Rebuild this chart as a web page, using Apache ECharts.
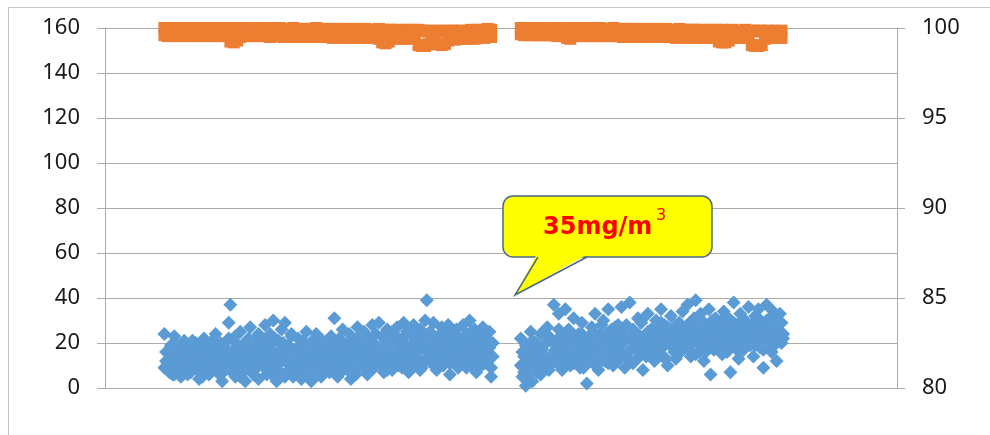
<!DOCTYPE html>
<html>
<head>
<meta charset="utf-8">
<script src="https://cdn.jsdelivr.net/npm/echarts@6/dist/echarts.min.js"></script>
<style>
html,body{margin:0;padding:0;background:#fff;}
#c{width:990px;height:435px;}
</style>
</head>
<body>
<div id="c"></div>
<script>
// sample index range of the x axis (hidden)
const xMin = 0, xMax = 480;
// left axis ticks (mg/m3) and right axis ticks (%)
const leftTicks = { min: 0, max: 160, interval: 20 };
const rightTicks = { min: 80, max: 100, interval: 5 };

// blue series (left axis) – first run, starting at sample 36 (two readings per sample)
const pmRun1Start = 36;
const pmRun1 = [
 24,12,8,15,19,6,23,10,14,17,5,11,21,9,13,18,7,16,12,20,
 14,4,19,11,22,8,16,6,13,18,10,24,7,15,20,3,12,17,9,29,
 37,14,21,5,18,11,25,8,16,3,20,13,27,7,17,10,22,4,15,19,
 12,28,6,18,24,9,30,14,3,21,11,26,16,29,7,19,13,23,5,17,
 10,22,15,4,19,12,25,8,17,3,20,13,24,6,16,11,21,9,14,18,
 7,23,12,31,17,5,20,14,26,9,18,11,24,4,15,21,8,27,13,19,
 10,25,16,6,22,13,28,9,19,15,29,11,23,7,17,26,12,20,8,24,
 14,27,10,21,17,29,12,24,7,19,15,28,11,22,18,26,9,20,30,39,
 16,25,11,29,19,8,23,14,27,10,21,17,28,6,24,13,20,26,9,22,
 18,28,12,24,15,30,10,21,26,7,19,23,13,27,11,20,16,25,5,14
];
const pmRun1b = [
 9,16,11,7,18,13,6,20,10,15,8,17,12,19,6,14,9,21,11,16,
 8,13,17,5,20,10,15,12,7,21,14,9,18,11,6,16,19,8,13,22,
 12,7,17,23,10,15,5,19,12,8,16,22,11,14,6,18,9,24,13,10,
 16,21,9,13,19,6,15,22,11,8,17,13,20,5,14,18,10,24,12,8,
 15,6,18,12,21,9,14,7,19,11,16,22,8,13,18,5,15,20,10,12,
 13,17,9,20,11,15,22,7,16,12,19,8,14,21,10,17,6,15,23,11,
 14,19,8,17,11,21,15,9,24,12,18,10,16,22,13,8,19,14,25,11,
 18,12,22,15,9,20,16,25,13,19,10,23,17,14,21,8,18,24,12,16,
 20,13,24,17,10,22,15,19,12,25,18,14,21,11,19,16,23,13,20,17,
 13,22,17,9,20,14,25,18,11,21,15,24,10,19,17,22,12,18,9,20
];
// blue series – second run, starting at sample 252
const pmRun2Start = 252;
const pmRun2 = [
 22,5,14,1,18,9,25,3,12,20,7,16,24,10,19,13,27,8,21,15,
 37,17,11,33,23,8,19,35,14,26,10,21,31,16,12,24,18,29,9,22,
 2,20,14,27,11,33,18,8,24,15,30,12,21,35,17,26,10,23,19,28,
 13,36,20,9,27,16,38,22,11,25,18,31,14,29,8,23,19,33,15,26,
 21,12,30,17,25,35,14,28,20,10,24,32,18,27,13,22,29,16,34,23,
 19,37,25,14,30,21,39,27,16,33,23,12,28,20,35,6,26,17,31,24,
 22,29,15,34,26,18,31,7,24,38,20,28,13,33,25,17,30,22,36,19,
 27,14,32,23,35,18,29,9,25,37,21,31,16,34,26,12,28,33,20,24
];
const pmRun2b = [
 10,16,7,19,12,4,15,21,8,14,18,11,6,17,13,20,9,23,14,11,
 15,20,12,26,17,10,22,14,19,25,13,18,11,23,16,20,9,24,14,19,
 17,22,12,19,25,15,10,21,16,28,13,20,24,11,18,22,14,27,16,20,
 19,24,15,21,28,13,22,17,26,12,20,24,16,30,18,21,14,25,19,23,
 17,26,20,15,24,29,18,22,13,27,21,19,25,16,28,22,18,26,20,24,
 22,28,17,25,20,31,15,24,27,19,23,29,16,26,21,18,30,23,20,27,
 25,18,28,21,32,16,24,27,20,29,23,17,26,22,30,19,25,28,21,27,
 23,29,19,26,31,21,27,17,24,30,22,28,18,25,32,20,26,23,29,22
];
// orange series (right axis) – every 2nd sample, an upper and a lower reading
const effStep = 2;
const effHi1 = [
 100.0,99.95,100.0,99.95,100.0,100.0,99.95,100.0,99.95,100.0,
 100.0,99.95,100.0,100.0,99.95,100.0,99.95,100.0,100.0,99.95,
 99.95,100.0,100.0,99.95,100.0,99.95,100.0,100.0,99.95,100.0,
 99.95,99.95,100.0,99.9,99.95,100.0,99.95,99.9,99.95,100.0,
 99.95,99.9,99.95,99.95,99.9,99.95,100.0,99.95,99.9,99.95,
 99.9,99.95,99.95,99.9,99.95,99.9,99.95,99.9,99.95,99.9,
 99.9,99.95,99.9,99.85,99.9,99.95,99.9,99.85,99.9,99.9,
 99.85,99.9,99.85,99.9,99.85,99.9,99.85,99.9,99.85,99.85,
 99.8,99.85,99.8,99.85,99.8,99.85,99.8,99.85,99.85,99.8,
 99.85,99.8,99.85,99.9,99.85,99.9,99.85,99.9,99.95,99.9
];
const effLo1 = [
 99.6,99.55,99.6,99.6,99.55,99.6,99.6,99.55,99.6,99.6,
 99.55,99.6,99.55,99.6,99.6,99.55,99.6,99.55,99.6,99.55,
 99.25,99.2,99.3,99.5,99.55,99.6,99.55,99.6,99.55,99.55,
 99.6,99.55,99.5,99.55,99.6,99.55,99.5,99.55,99.5,99.55,
 99.5,99.55,99.5,99.55,99.5,99.5,99.55,99.5,99.5,99.55,
 99.5,99.45,99.5,99.5,99.45,99.5,99.45,99.5,99.45,99.5,
 99.45,99.5,99.45,99.45,99.5,99.4,99.2,99.15,99.25,99.45,
 99.45,99.4,99.45,99.4,99.45,99.4,99.45,99.05,99.0,99.0,
 99.1,99.4,99.35,99.1,99.05,99.1,99.3,99.4,99.35,99.4,
 99.4,99.45,99.4,99.45,99.4,99.45,99.5,99.45,99.5,99.5
];
const effHi2 = [
 100.0,100.0,99.95,100.0,100.0,99.95,100.0,100.0,99.95,100.0,
 100.0,99.95,100.0,99.95,100.0,100.0,99.95,100.0,99.95,100.0,
 99.95,100.0,99.95,99.95,100.0,99.95,99.9,99.95,100.0,99.95,
 99.95,99.9,99.95,99.95,99.9,99.95,99.9,99.95,99.9,99.95,
 99.9,99.95,99.9,99.9,99.95,99.9,99.85,99.9,99.95,99.9,
 99.9,99.85,99.9,99.9,99.85,99.9,99.85,99.9,99.85,99.9,
 99.85,99.9,99.85,99.85,99.9,99.85,99.8,99.85,99.9,99.85,
 99.85,99.8,99.85,99.85,99.8,99.85,99.8,99.85,99.8,99.85
];
const effLo2 = [
 99.65,99.6,99.65,99.6,99.65,99.6,99.6,99.65,99.6,99.6,
 99.6,99.55,99.6,99.55,99.45,99.4,99.55,99.6,99.55,99.6,
 99.55,99.6,99.55,99.6,99.55,99.55,99.6,99.55,99.55,99.6,
 99.55,99.5,99.55,99.5,99.55,99.5,99.55,99.5,99.5,99.55,
 99.5,99.55,99.5,99.5,99.55,99.5,99.5,99.45,99.5,99.5,
 99.45,99.5,99.45,99.5,99.45,99.5,99.45,99.5,99.45,99.5,
 99.25,99.2,99.2,99.3,99.45,99.5,99.45,99.5,99.45,99.5,
 99.05,99.0,99.0,99.05,99.4,99.45,99.5,99.45,99.5,99.45
];
const calloutText = '35mg/m';
const calloutSup = '3';

const pmData = pmRun1.map((v,i)=>[pmRun1Start+i, v])
  .concat(pmRun1b.map((v,i)=>[pmRun1Start+i, v]))
  .concat(pmRun2.map((v,i)=>[pmRun2Start+i, v]))
  .concat(pmRun2b.map((v,i)=>[pmRun2Start+i, v]));
const effData = effHi1.map((v,i)=>[pmRun1Start+i*effStep, v])
  .concat(effLo1.map((v,i)=>[pmRun1Start+i*effStep, v]))
  .concat(effHi2.map((v,i)=>[pmRun2Start+i*effStep, v]))
  .concat(effLo2.map((v,i)=>[pmRun2Start+i*effStep, v]));

const gridColor = '#ABABAB';
const labelFont = { fontFamily: 'Noto Sans', fontSize: 22, color: '#1a1a1a' };

const chart = echarts.init(document.getElementById('c'), null, {renderer:'canvas'});
chart.setOption({
  animation: false,
  backgroundColor: '#fff',
  grid: { left: 105, right: 93, top: 28, bottom: 47 },
  xAxis: { type: 'value', min: xMin, max: xMax, show: false },
  yAxis: [
    { type: 'value', position: 'left', min: leftTicks.min, max: leftTicks.max, interval: leftTicks.interval,
      axisLine: { show: true, lineStyle: { color: gridColor, width: 1 } },
      axisTick: { show: true, length: 8, lineStyle: { color: gridColor } },
      splitLine: { show: true, lineStyle: { color: gridColor, width: 1 } },
      axisLabel: Object.assign({ margin: 25 }, labelFont) },
    { type: 'value', position: 'right', min: rightTicks.min, max: rightTicks.max, interval: rightTicks.interval,
      axisLine: { show: true, lineStyle: { color: gridColor, width: 1 } },
      axisTick: { show: true, length: 8, lineStyle: { color: gridColor } },
      splitLine: { show: false },
      axisLabel: Object.assign({ margin: 25, align: 'left' }, labelFont) }
  ],
  series: [
    { type: 'scatter', yAxisIndex: 1, data: effData, symbol: 'rect', symbolSize: 12, clip: false,
      itemStyle: { color: '#ED7D31', opacity: 1 } },
    { type: 'scatter', yAxisIndex: 0, data: pmData, symbol: 'diamond', symbolSize: 14,
      itemStyle: { color: '#5B9BD5', opacity: 1 } }
  ],
  graphic: [
    { type: 'rect', shape: { x: 8.5, y: 7.5, width: 1000, height: 500 },
      style: { fill: 'none', stroke: '#C4C4C4', lineWidth: 1 }, z: 0 },
    { type: 'rect', z: 100, shape: { x: 503, y: 196, width: 209, height: 61, r: 10 },
      style: { fill: '#FFFF00', stroke: '#4A6A88', lineWidth: 1.5 } },
    { type: 'polygon', z: 101, shape: { points: [[537, 254], [515, 295], [588, 254]] },
      style: { fill: '#FFFF00', stroke: null } },
    { type: 'polyline', z: 102, shape: { points: [[538, 257], [515, 295], [587, 257]] },
      style: { fill: null, stroke: '#4A6A88', lineWidth: 1.5 } },
    { type: 'text', z: 103, x: 543, y: 228,
      style: { text: calloutText, fill: '#FF0000', fontFamily: 'DejaVu Sans', fontWeight: 'bold', fontSize: 24,
        verticalAlign: 'middle' } },
    { type: 'text', z: 103, x: 656, y: 216,
      style: { text: calloutSup, fill: '#FF0000', fontFamily: 'DejaVu Sans', fontSize: 16,
        verticalAlign: 'middle' } }
  ]
});
</script>
</body>
</html>
